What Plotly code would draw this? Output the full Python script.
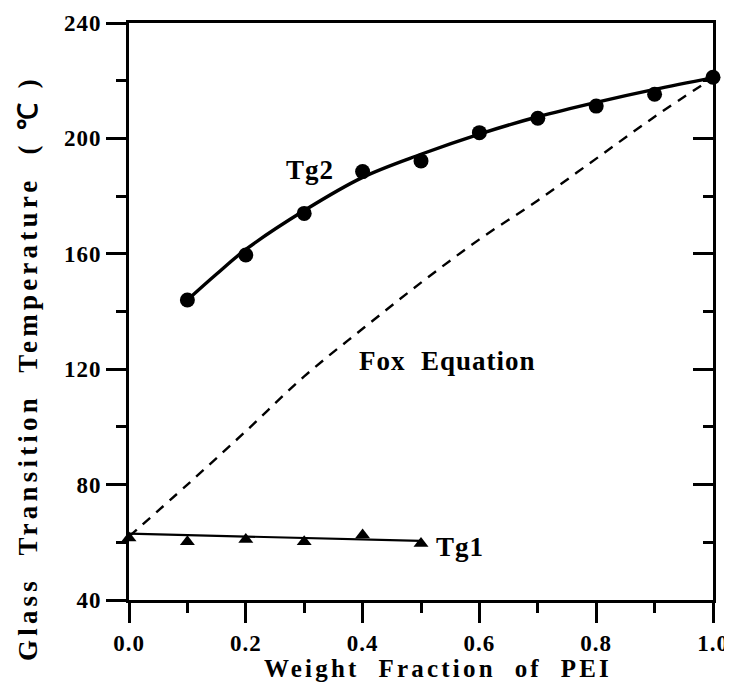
import plotly.graph_objects as go

# Data
tg2_x = [0.1, 0.2, 0.3, 0.4, 0.5, 0.6, 0.7, 0.8, 0.9, 1.0]
tg2_y = [144.0, 159.6, 174.0, 188.5, 192.2, 202.0, 207.0, 211.2, 215.3, 221.2]

tg2_fit_x = [0.1, 0.15, 0.2, 0.3, 0.4, 0.5, 0.6, 0.7, 0.8, 0.9, 1.0]
tg2_fit_y = [144.0, 153.0, 161.5, 175.0, 186.5, 194.5, 201.5, 207.5, 212.5, 217.0, 221.0]

tg1_x = [0.0, 0.1, 0.2, 0.3, 0.4, 0.5]
tg1_y = [61.5, 60.2, 61.0, 60.2, 62.5, 59.6]

tg1_fit_x = [0.0, 0.5]
tg1_fit_y = [63.0, 60.5]

fox_x = [0.0, 0.1, 0.2, 0.3, 0.4, 0.5, 0.6, 0.7, 0.8, 0.9, 1.0]
fox_y = [62.0, 80.0, 98.5, 117.5, 134.0, 150.0, 165.0, 178.5, 193.0, 207.5, 221.0]

x_ticks = [0.0, 0.2, 0.4, 0.6, 0.8, 1.0]
x_tick_labels = ["0.0", "0.2", "0.4", "0.6", "0.8", "1.0"]
y_ticks = [40, 80, 120, 160, 200, 240]
y_tick_labels = ["40", "80", "120", "160", "200", "240"]

FONT = "Liberation Serif"


def spaced(txt, px):
    return '<span style="letter-spacing:%spx"><b>%s</b></span>' % (px, txt)


fig = go.Figure()

fig.add_trace(go.Scatter(x=fox_x, y=fox_y, mode="lines",
                         line=dict(color="black", width=2.4, dash="10px,8px", shape="spline"),
                         hoverinfo="skip", showlegend=False))
fig.add_trace(go.Scatter(x=tg2_fit_x, y=tg2_fit_y, mode="lines",
                         line=dict(color="black", width=3.4, shape="spline"),
                         hoverinfo="skip", showlegend=False))
fig.add_trace(go.Scatter(x=tg1_fit_x, y=tg1_fit_y, mode="lines",
                         line=dict(color="black", width=2.2),
                         hoverinfo="skip", showlegend=False))
fig.add_trace(go.Scatter(x=tg1_x, y=tg1_y, mode="markers",
                         marker=dict(symbol="triangle-up", size=13, color="black"),
                         cliponaxis=False, showlegend=False))
fig.add_trace(go.Scatter(x=tg2_x, y=tg2_y, mode="markers", yaxis="y2",
                         marker=dict(symbol="circle", size=15, color="black"),
                         cliponaxis=False, showlegend=False))

annot_font = dict(family=FONT, size=27, color="black")
fig.add_annotation(x=0.31, y=189, text=spaced("Tg2", 1), showarrow=False, font=annot_font)
fig.add_annotation(x=0.545, y=123, text=spaced("Fox  Equation", 1), showarrow=False, font=annot_font)
fig.add_annotation(x=0.567, y=58.5, text=spaced("Tg1", 1), showarrow=False, font=annot_font)

fig.add_annotation(xref="paper", yref="paper", x=0.529, y=-0.119, xanchor="center", yanchor="middle",
                   text=spaced("Weight  Fraction  of  PEI", 3.2), showarrow=False,
                   font=dict(family=FONT, size=25, color="black"))
fig.add_annotation(xref="paper", yref="paper", x=-0.173, y=0.402, xanchor="center", yanchor="middle",
                   textangle=-90, text=spaced("Glass  Transition  Temperature  ( ℃ )", 4.2),
                   showarrow=False, font=dict(family=FONT, size=27, color="black"))

tick_font = dict(family=FONT, size=23, color="black")

# The page body has an 8px margin, so the figure is sized and offset accordingly.
fig.update_layout(
    width=724, height=677,
    margin=dict(l=121, r=19, t=15, b=85, autoexpand=False),
    paper_bgcolor="white", plot_bgcolor="white",
    font=dict(family=FONT, color="black"),
    xaxis=dict(
        range=[0, 1.0], tickmode="array", tickvals=x_ticks,
        ticktext=[spaced(t, 1) for t in x_tick_labels],
        ticks="outside", ticklen=20, tickwidth=3, tickcolor="black",
        minor=dict(dtick=0.1, ticks="outside", ticklen=10, tickwidth=3, tickcolor="black"),
        showline=True, linecolor="black", linewidth=3, mirror=True,
        showgrid=False, zeroline=False, automargin=False,
        tickfont=tick_font,
    ),
    yaxis=dict(
        range=[40, 240], tickmode="array", tickvals=y_ticks,
        ticktext=[spaced(t, 1) for t in y_tick_labels],
        ticks="outside", ticklen=20, tickwidth=3, tickcolor="black",
        minor=dict(dtick=20, ticks="outside", ticklen=10, tickwidth=3, tickcolor="black"),
        showline=True, linecolor="black", linewidth=3, mirror=True,
        showgrid=False, zeroline=False, automargin=False,
        tickfont=tick_font,
    ),
    yaxis2=dict(
        range=[40, 240], overlaying="y", side="right", anchor="x",
        tickmode="array", tickvals=y_ticks, showticklabels=False,
        ticks="inside", ticklen=20, tickwidth=3, tickcolor="black",
        minor=dict(dtick=20, ticks="inside", ticklen=10, tickwidth=3, tickcolor="black"),
        showline=False, showgrid=False, zeroline=False, automargin=False,
    ),
)

fig.write_html("out.html")
